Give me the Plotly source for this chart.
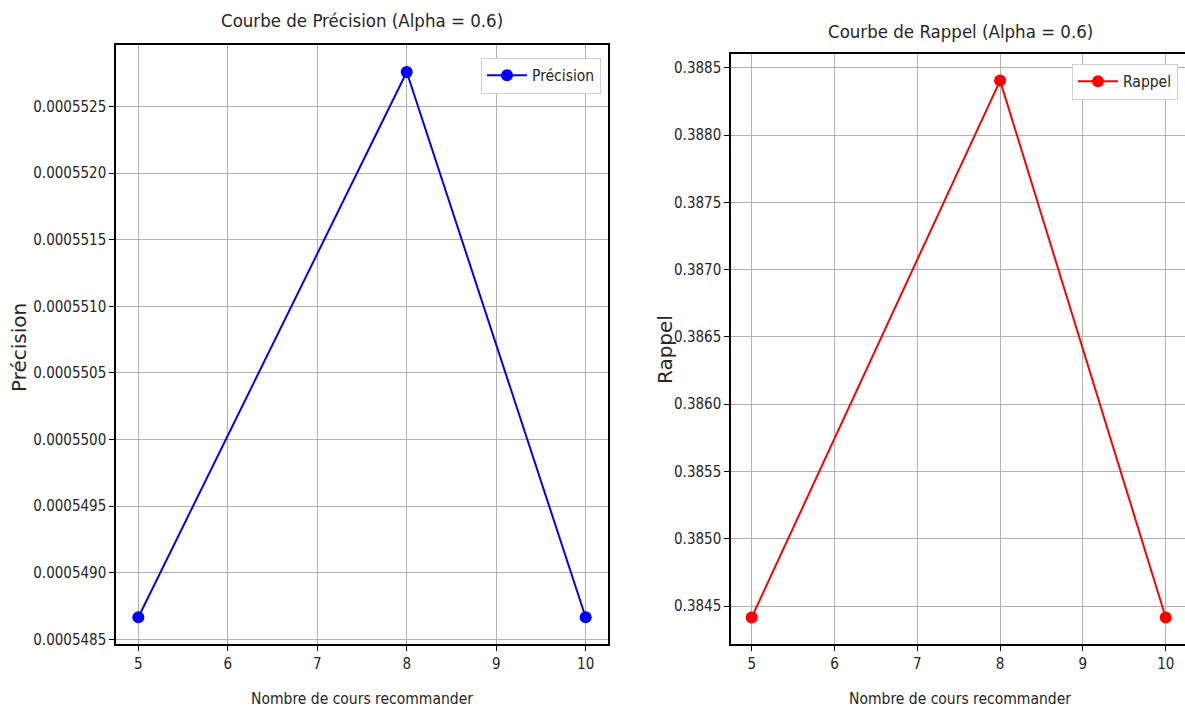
import plotly.graph_objects as go

# Data
nb_cours = [5, 8, 10]
precision = [0.000548666, 0.000552758, 0.000548666]
rappel = [0.384415, 0.388405, 0.384415]

prec_ticks = [0.0005485, 0.0005490, 0.0005495, 0.0005500, 0.0005505,
              0.0005510, 0.0005515, 0.0005520, 0.0005525]
rap_ticks = [0.3845, 0.3850, 0.3855, 0.3860, 0.3865, 0.3870, 0.3875, 0.3880, 0.3885]
x_ticks = [5, 6, 7, 8, 9, 10]

W, H = 1185, 716
FONT = "DejaVu Sans Condensed, Liberation Sans Narrow, Arial Narrow, DejaVu Sans"
TXT = "#262626"

fig = go.Figure()
fig.add_trace(go.Scatter(x=nb_cours, y=precision, mode="lines+markers", name="Précision",
                         line=dict(color="#0000ff", width=2), marker=dict(color="#0000ff", size=12),
                         xaxis="x", yaxis="y", legend="legend", showlegend=True))
fig.add_trace(go.Scatter(x=nb_cours, y=rappel, mode="lines+markers", name="Rappel",
                         line=dict(color="#ff0000", width=2), marker=dict(color="#ff0000", size=12),
                         xaxis="x2", yaxis="y2", legend="legend2", showlegend=True))

def px_x(p):
    return p / W

def px_y(p):
    return 1 - p / H

def axis_common(mirror=True):
    return dict(showline=True, linecolor="black", linewidth=1.5, mirror=mirror,
                ticks="outside", ticklen=5, tickcolor="black", tickwidth=1,
                showgrid=True, gridcolor="#b0b0b0", gridwidth=1, zeroline=False,
                tickfont=dict(family=FONT, size=15, color=TXT))

def ann(text, x, y, size, angle=0, family=FONT):
    return dict(text=text, x=px_x(x), y=px_y(y), xref="paper", yref="paper",
                xanchor="center", yanchor="middle", showarrow=False, textangle=angle,
                font=dict(family=family, size=size, color=TXT))

legend_common = dict(xanchor="right", yanchor="top", bgcolor="white",
                     bordercolor="#d0d0d0", borderwidth=1,
                     font=dict(family=FONT, size=15.5, color=TXT), itemwidth=40,
                     tracegroupgap=0)

fig.update_layout(
    width=W, height=H,
    margin=dict(l=0, r=0, t=0, b=0),
    paper_bgcolor="white", plot_bgcolor="white",
    showlegend=True,
    font=dict(family=FONT, color=TXT),
    xaxis=dict(domain=[px_x(116), px_x(608)], range=[4.75, 10.25], tickvals=x_ticks,
               anchor="y", **axis_common()),
    yaxis=dict(domain=[px_y(648), px_y(45)], range=[0.000548462, 0.000552963],
               tickvals=prec_ticks, tickformat=".7f", anchor="x", **axis_common()),
    xaxis2=dict(domain=[px_x(731), 1.0], range=[4.75, 10.233], tickvals=x_ticks,
                anchor="y2", **axis_common()),
    yaxis2=dict(domain=[px_y(648), px_y(54)], range=[0.384215, 0.388605],
                tickvals=rap_ticks, tickformat=".4f", anchor="x2", **axis_common(False)),
    legend=dict(x=px_x(601), y=px_y(58), **legend_common),
    legend2=dict(x=px_x(1178), y=px_y(64), **legend_common),
    annotations=[
        ann("Courbe de Précision (Alpha = 0.6)", 362, 21, 18.5),
        ann("Courbe de Rappel (Alpha = 0.6)", 960, 32, 18.5),
        ann("Nombre de cours recommander", 362, 703, 15.5),
        ann("Nombre de cours recommander", 960, 703, 15.5),
        ann("Précision", 19, 350, 20, -90, "DejaVu Sans"),
        ann("Rappel", 665, 352, 20, -90, "DejaVu Sans"),
    ],
)

fig.write_html("out.html", config={"displayModeBar": False},
               post_script="document.body.style.margin='0px';document.body.style.padding='0px';")
